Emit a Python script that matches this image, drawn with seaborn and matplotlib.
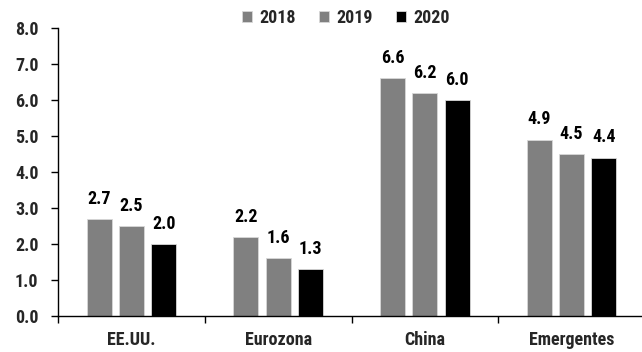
import matplotlib
matplotlib.use("Agg")
import matplotlib.pyplot as plt
import seaborn as sns
import pandas as pd
from matplotlib import font_manager

categories = ["EE.UU.", "Eurozona", "China", "Emergentes"]
years = ["2018", "2019", "2020"]
v2018 = [2.7, 2.2, 6.6, 4.9]
v2019 = [2.5, 1.6, 6.2, 4.5]
v2020 = [2.0, 1.3, 6.0, 4.4]
colors = ["#808080", "#808080", "#000000"]
yticks = [0, 1, 2, 3, 4, 5, 6, 7, 8]

rows = []
for y, vals in zip(years, [v2018, v2019, v2020]):
    for c, v in zip(categories, vals):
        rows.append({"cat": c, "year": y, "val": v})
df = pd.DataFrame(rows)

sns.set_theme(style="white")
names = {f.name for f in font_manager.fontManager.ttflist}
fam = "Liberation Sans"
for cand in ["Liberation Sans Narrow", "Arial Narrow", "Roboto Condensed", "Open Sans Condensed"]:
    if cand in names:
        fam = cand
        break
plt.rcParams["font.family"] = [fam, "DejaVu Sans"]
plt.rcParams["font.weight"] = "bold"
FS = 13

fig = plt.figure(figsize=(6.42, 3.52), dpi=100)
ax = fig.add_axes([58/642, 36/352, 587/642, 288/352])

sns.barplot(data=df, x="cat", y="val", hue="year", order=categories, hue_order=years,
            palette=colors, width=0.66, gap=0.23, ax=ax, edgecolor="#d8d8d8", linewidth=0.6,
            legend=True)

for cont in ax.containers:
    ax.bar_label(cont, fmt="%.1f", padding=8, fontsize=FS, fontweight="bold", color="black")

ax.set_ylim(0, 8)
ax.set_xlim(-0.5, 3.5)
ax.set_yticks(yticks)
ax.set_yticklabels([f"{t:.1f}" for t in yticks], fontsize=FS, fontweight="bold")
ax.set_xticks([0, 1, 2, 3])
ax.set_xticklabels(categories, fontsize=FS, fontweight="bold")
ax.tick_params(axis="x", length=0, pad=11)
ax.set_xticks([-0.5, 0.5, 1.5, 2.5, 3.5], minor=True)
ax.tick_params(axis="x", which="minor", length=5, width=1, color="black", direction="out", bottom=True)
ax.tick_params(axis="y", length=5, width=1, color="black", direction="out", left=True, pad=9)
ax.set_xlabel("")
ax.set_ylabel("")
for s in ["top", "right"]:
    ax.spines[s].set_visible(False)
for s in ["left", "bottom"]:
    ax.spines[s].set_color("black")
    ax.spines[s].set_linewidth(1)

handles, labels = ax.get_legend_handles_labels()
ax.legend_.remove()
fig.legend(handles, labels, loc="center", bbox_to_anchor=(346/642, 1 - 18/352), ncol=3,
           frameon=False, handlelength=0.55, handleheight=0.55, handletextpad=0.4,
           columnspacing=1.3, prop={"size": FS, "weight": "bold"})

fig.savefig("out.png", dpi=100)
